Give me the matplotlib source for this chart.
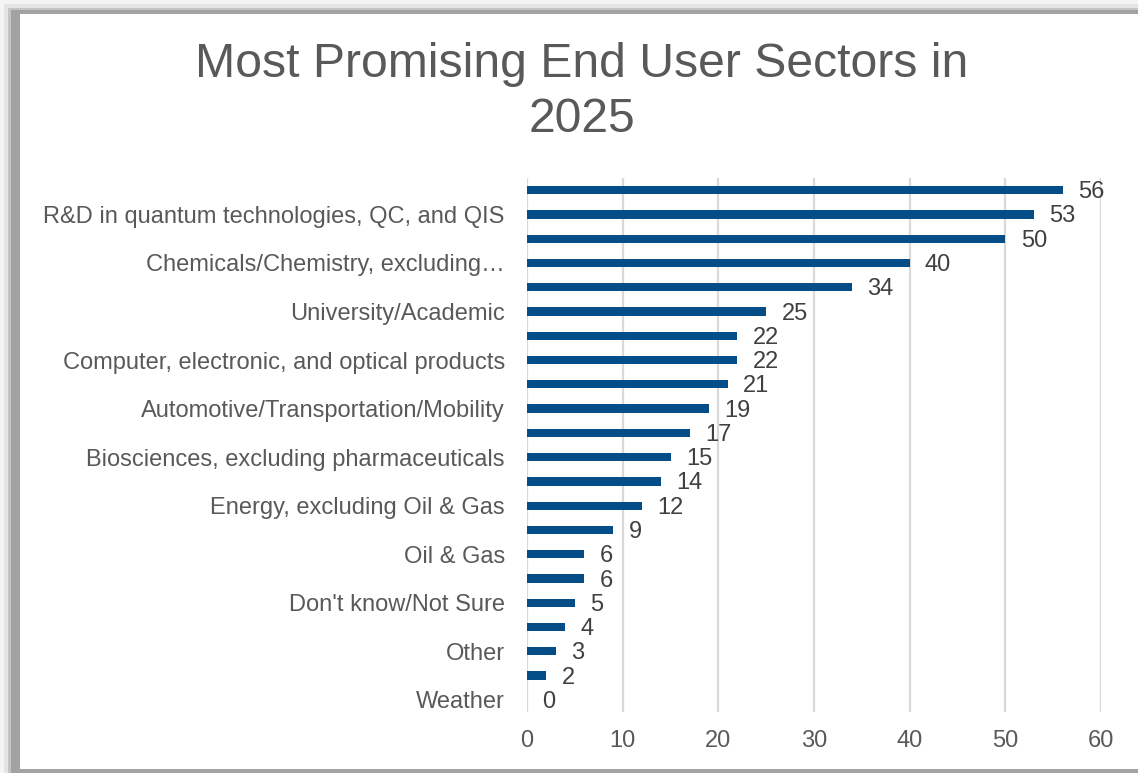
import matplotlib
matplotlib.use("Agg")
import matplotlib.pyplot as plt
from matplotlib.patches import Rectangle

plt.rcParams['font.family'] = ['Liberation Sans', 'DejaVu Sans']

# sectors top to bottom; only every other one carries a visible label
sectors = ["", "R&D in quantum technologies, QC, and QIS",
           "", "Chemicals/Chemistry, excluding\u2026",
           "", "University/Academic",
           "", "Computer, electronic, and optical products",
           "", "Automotive/Transportation/Mobility",
           "", "Biosciences, excluding pharmaceuticals",
           "", "Energy, excluding Oil & Gas",
           "", "Oil & Gas",
           "", "Don't know/Not Sure",
           "", "Other",
           "", "Weather"]
responses = [56, 53, 50, 40, 34, 25, 22, 22, 21, 19, 17,
             15, 14, 12, 9, 6, 6, 5, 4, 3, 2, 0]
x_ticks = [0, 10, 20, 30, 40, 50, 60]

bar_color = '#034d88'
text_color = '#595959'

fig = plt.figure(figsize=(11.38, 7.73), dpi=100)
fig.patch.set_facecolor('white')

# outer frame with a soft shadow on the top and left
W, H = 1138, 773
def px_rect(x0, y0, x1, y1, color):
    fig.patches.append(Rectangle((x0 / W, 1 - y1 / H), (x1 - x0) / W, (y1 - y0) / H,
                                 transform=fig.transFigure, color=color, zorder=-5, lw=0))

px_rect(0, 0, W, H, '#f4f4f4')
px_rect(4, 4, W, H, '#e4e4e4')
px_rect(8, 8, W, H, '#c4c4c4')
px_rect(11, 10, W, H, '#a2a2a2')
px_rect(20, 14, W, 769, 'white')

ax = fig.add_axes([527 / W, 1 - 712 / H, (1101 - 527) / W, (712 - 178) / H])
ax.set_facecolor('none')

pos = list(range(len(responses)))
ax.barh(pos, responses, height=0.34, color=bar_color, zorder=3)

for p, v in zip(pos, responses):
    ax.annotate(str(v), (v, p), xytext=(11, -1.5), textcoords='offset points',
                va='center', ha='left', fontsize=17, color='#404040')

ax.set_xlim(0, 60)
ax.set_ylim(len(responses) - 0.5, -0.5)
ax.set_xticks(x_ticks)
ax.set_yticks(pos)
ax.set_yticklabels(sectors)
ax.tick_params(axis='y', length=0, pad=16, labelsize=17, labelcolor=text_color)
ax.tick_params(axis='x', length=0, pad=13, labelsize=17, labelcolor=text_color)
ax.grid(axis='x', color='#d9d9d9', lw=1.6, zorder=0)
for s in ax.spines.values():
    s.set_visible(False)

fig.text(0.511, 1 - 92 / H, "Most Promising End User Sectors in\n2025",
         ha='center', va='center', fontsize=34.7, color=text_color, linespacing=1.27)

fig.savefig('out.png', dpi=100)
